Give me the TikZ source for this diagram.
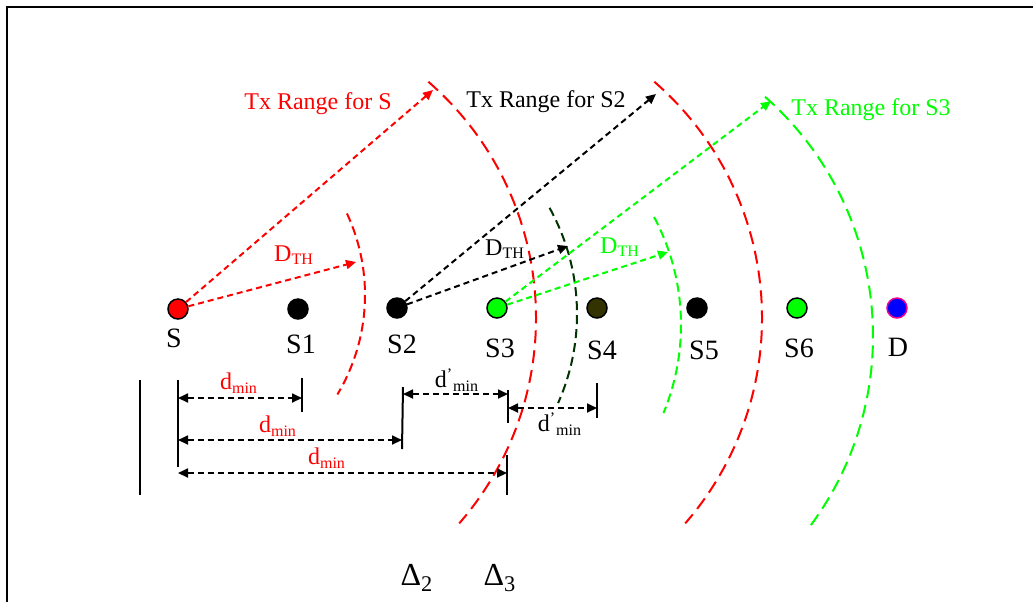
\documentclass[tikz,border=0pt]{standalone}
\usepackage{fontspec}
\setmainfont{Liberation Serif}
\usetikzlibrary{arrows.meta, calc}

\definecolor{brightgreen}{RGB}{0,255,0}
\definecolor{darkgreen}{RGB}{0,51,0}
\definecolor{darkolive}{RGB}{51,51,0}

\begin{document}
\begin{tikzpicture}[x=0.5pt, y=0.5pt,
  sensor/.style={circle, draw=black, line width=0.75pt, minimum size=10pt, inner sep=0pt},
  lbl/.style={font=\fontsize{14}{16}\selectfont},
  txt/.style={font=\fontsize{12}{14}\selectfont},
  rangearc/.style={line width=1pt, dash pattern=on 6.5pt off 3.5pt},
  tharc/.style={line width=1pt, dash pattern=on 4.5pt off 2.5pt},
  ray/.style={-{Triangle[length=5pt, width=4.5pt]}, line width=1pt, dash pattern=on 3pt off 2pt},
  dim/.style={{Triangle[length=5pt, width=4.5pt]}-{Triangle[length=5pt, width=4.5pt]}, line width=0.9pt, dash pattern=on 3pt off 2pt},
  bar/.style={line width=1pt}
]
  \useasboundingbox (0,0) rectangle (1033,-602);
  \draw[line width=1.2pt] (7,-602) -- (7,-7) -- (1033,-7);

  % sensors
  \node[sensor, fill=red] (s) at (178,-309) {};
  \node[sensor, fill=black] (s1) at (298,-309) {};
  \node[sensor, fill=black] (s2) at (397,-308) {};
  \node[sensor, fill=brightgreen] (s3) at (497,-308) {};
  \node[sensor, fill=darkolive] (s4) at (597,-308) {};
  \node[sensor, fill=black] (s5) at (697,-308) {};
  \node[sensor, fill=brightgreen] (s6) at (797,-308) {};
  \node[sensor, fill=blue, draw=magenta] (d) at (897,-308) {};

  \node[lbl] (ls) at (174,-338) {S};
  \node[lbl] (ls1) at (301,-344) {S1};
  \node[lbl] (ls2) at (402,-344) {S2};
  \node[lbl] (ls3) at (500,-348) {S3};
  \node[lbl] (ls4) at (602,-350) {S4};
  \node[lbl] (ls5) at (704,-350) {S5};
  \node[lbl] (ls6) at (799,-348) {S6};
  \node[lbl] (ld) at (898,-347) {D};

  % ranges
  \draw[rangearc, red] ($(223,-318)+(49:313)$) arc[start angle=49, end angle=-41, radius=313];
  \draw[rangearc, red] ($(449,-318)+(49:313)$) arc[start angle=49, end angle=-41, radius=313];
  \draw[rangearc, brightgreen] ($(554,-336)+(48.6:319)$) arc[start angle=48.6, end angle=-36.7, radius=319];
  \draw[tharc, red] ($(172,-295)+(25:193)$) arc[start angle=25, end angle=-31, radius=193];
  \draw[tharc, darkgreen] ($(358,-314)+(29:219)$) arc[start angle=29, end angle=-24, radius=219];
  \draw[tharc, brightgreen] ($(451,-325)+(28:230)$) arc[start angle=28, end angle=-22.5, radius=230];

  \coordinate (txs) at (433,-90);
  \coordinate (ths) at (356,-262);
  \coordinate (txs2) at (656,-94);
  \coordinate (ths2) at (568,-246);
  \coordinate (txs3) at (771,-101);
  \coordinate (ths3) at (668,-252);

  \draw[ray, red] (s) -- (txs);
  \draw[ray, red] (s) -- (ths);
  \draw[ray, black] (s2) -- (txs2);
  \draw[ray, black] (s2) -- (ths2);
  \draw[ray, brightgreen] (s3) -- (txs3);
  \draw[ray, brightgreen] (s3) -- (ths3);

  \node[txt, red] (rs) at (318,-104) {Tx Range for S};
  \node[txt] (rs2) at (546,-102) {Tx Range for S2};
  \node[txt, brightgreen] (rs3) at (871,-110) {Tx Range for S3};
  \node[txt, red] (dth) at (294,-255) {D\textsubscript{TH}};
  \node[txt] (dth2) at (505,-249) {D\textsubscript{TH}};
  \node[txt, brightgreen] (dth3) at (620,-247) {D\textsubscript{TH}};

  % distances
  \draw[bar] (140,-380) -- (140,-495);
  \draw[bar] (178,-380) -- (178,-467);
  \draw[bar] (302,-378) -- (302,-412);
  \draw[bar] (403,-387) -- (402,-449);
  \draw[bar] (508,-390) -- (508,-423);
  \draw[bar] (597,-383) -- (597,-418);
  \draw[bar] (507,-455) -- (507,-495);

  \coordinate (a1) at (178,-398);
  \coordinate (b1) at (302,-398);
  \coordinate (a2) at (178,-440);
  \coordinate (b2) at (402,-440);
  \coordinate (a3) at (178,-473);
  \coordinate (b3) at (507,-473);
  \coordinate (a4) at (403,-394);
  \coordinate (b4) at (508,-394);
  \coordinate (a5) at (508,-408);
  \coordinate (b5) at (597,-408);

  \draw[dim] (a1) -- (b1);
  \draw[dim] (a2) -- (b2);
  \draw[dim] (a3) -- (b3);
  \draw[dim] (a4) -- (b4);
  \draw[dim] (a5) -- (b5);

  \node[txt, red] (m1) at (239,-383) {d\textsubscript{min}};
  \node[txt, red] (m2) at (278,-426) {d\textsubscript{min}};
  \node[txt, red] (m3) at (327,-458) {d\textsubscript{min}};
  \node[txt] (m4) at (457,-380) {d\textsuperscript{'}\textsubscript{min}};
  \node[txt] (m5) at (560,-424) {d\textsuperscript{'}\textsubscript{min}};

  \node[font=\fontsize{16}{18}\selectfont] (del2) at (417,-578) {Δ\textsubscript{2}};
  \node[font=\fontsize{16}{18}\selectfont] (del3) at (500,-578) {Δ\textsubscript{3}};
\end{tikzpicture}
\end{document}
